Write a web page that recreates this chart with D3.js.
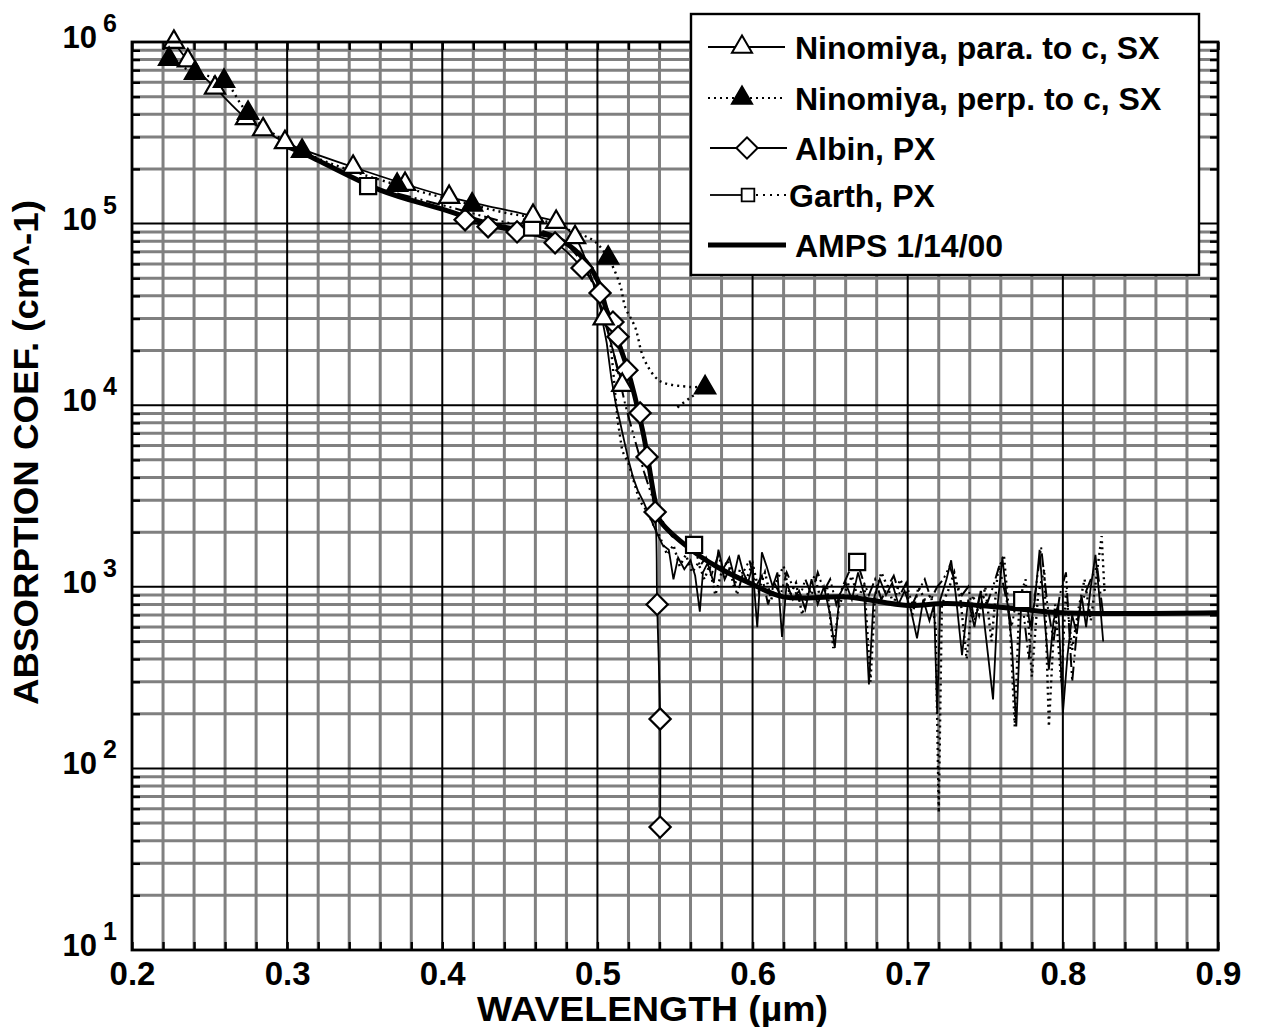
<!DOCTYPE html>
<html>
<head>
<meta charset="utf-8">
<script src="https://cdn.jsdelivr.net/npm/d3@7"></script>
<style>
  body { margin: 0; background: #fff; }
  text { font-family: "Liberation Sans", Arial, sans-serif; font-weight: bold; fill: #000; }
</style>
</head>
<body>
<script>
// Ninomiya, para. to c (open triangles, thin solid)
const paraMarkX = [0.227, 0.236, 0.2535, 0.2735, 0.2845, 0.2986, 0.3425, 0.376, 0.4044, 0.4585, 0.4734, 0.4856, 0.504, 0.516];
const paraMarkY = [1.0e6, 7.9e5, 5.6e5, 3.8e5, 3.3e5, 2.8e5, 2.05e5, 1.65e5, 1.4e5, 1.1e5, 1.02e5, 8.4e4, 3.0e4, 1.29e4];

// Ninomiya, perp. to c (filled triangles, dotted)
const perpMarkX = [0.2239, 0.2406, 0.2593, 0.2748, 0.3096, 0.3709, 0.4192, 0.5069, 0.5694];
const perpMarkY = [8.05e5, 6.75e5, 6.1e5, 4.06e5, 2.51e5, 1.63e5, 1.27e5, 6.47e4, 1.25e4];
const perpLineX = [0.2239, 0.2406, 0.2593, 0.2748, 0.3096, 0.3709, 0.4192, 0.44, 0.46, 0.485, 0.498, 0.5069, 0.5146, 0.5179, 0.5243, 0.5295, 0.5372, 0.5424, 0.5598, 0.5694, 0.5598, 0.5514];
const perpLineY = [8.05e5, 6.75e5, 6.1e5, 4.06e5, 2.51e5, 1.63e5, 1.27e5, 1.15e5, 1.07e5, 9.0e4, 8.0e4, 6.47e4, 4.6e4, 3.47e4, 2.69e4, 1.84e4, 1.43e4, 1.33e4, 1.26e4, 1.25e4, 1.1e4, 9.7e3];

// Albin, PX (open diamonds)
const albinX = [0.4147, 0.4295, 0.4482, 0.4727, 0.4901, 0.5017, 0.510, 0.5133, 0.519, 0.5275, 0.532, 0.5372, 0.5385, 0.5404, 0.5404];
const albinY = [1.05e5, 9.6e4, 9.0e4, 7.84e4, 5.7e4, 4.15e4, 2.87e4, 2.38e4, 1.56e4, 9.06e3, 5.19e3, 2.58e3, 8.0e2, 1.87e2, 4.75e1];

// Garth, PX (open squares, dash-dot)
const garthMarkX = [0.3522, 0.4579, 0.5623, 0.6674, 0.7738];
const garthMarkY = [1.61e5, 9.5e4, 1.70e3, 1.37e3, 8.45e2];
const garthLineX = [0.3522, 0.38, 0.41, 0.438, 0.4579, 0.47, 0.48, 0.49, 0.498, 0.505, 0.512, 0.518, 0.524, 0.530, 0.536, 0.542, 0.548, 0.555, 0.5623, 0.566, 0.570, 0.574, 0.578, 0.582, 0.586, 0.590, 0.594, 0.598, 0.602, 0.606, 0.610, 0.614, 0.618, 0.622, 0.626, 0.630, 0.634, 0.638, 0.642, 0.646, 0.650, 0.654, 0.658, 0.662, 0.6674, 0.671, 0.675, 0.679, 0.683, 0.687, 0.691, 0.695, 0.699, 0.703, 0.707, 0.711, 0.715, 0.719, 0.723, 0.727, 0.731, 0.735, 0.739, 0.743, 0.747, 0.751, 0.755, 0.759, 0.763, 0.767, 0.771, 0.7738, 0.778, 0.782, 0.786, 0.790, 0.794, 0.798, 0.802, 0.806, 0.810, 0.814, 0.818, 0.822, 0.826];
const garthLineY = [1.61e5, 1.4e5, 1.2e5, 1.03e5, 9.5e4, 8.8e4, 7.8e4, 6.2e4, 4.5e4, 3.0e4, 1.7e4, 1.0e4, 6.5e3, 4.3e3, 3.0e3, 2.3e3, 1.9e3, 1.75e3, 1.70e3, 1.3e3, 1.45e3, 1.2e3, 1.5e3, 1.1e3, 1.3e3, 9.0e2, 1.2e3, 1.4e3, 1.0e3, 1.15e3, 8.0e2, 1.05e3, 9.0e2, 1.2e3, 1.0e3, 8.5e2, 1.1e3, 9.0e2, 1.2e3, 9.5e2, 1.1e3, 8.0e2, 1.0e3, 1.2e3, 1.37e3, 1.1e3, 9.0e2, 1.1e3, 8.5e2, 1.0e3, 1.15e3, 9.0e2, 1.05e3, 8.0e2, 9.5e2, 1.1e3, 8.5e2, 1.0e3, 1.1e3, 1.3e3, 1.05e3, 9.0e2, 1.0e3, 6.5e2, 9.5e2, 8.0e2, 1.0e3, 1.3e3, 9.0e2, 6.0e2, 9.5e2, 8.45e2, 4.0e2, 9.0e2, 1.65e3, 8.0e2, 5.0e2, 9.0e2, 1.2e3, 3.0e2, 7.0e2, 9.0e2, 1.1e3, 1.3e3, 7.0e2];

// AMPS 1/14/00 (thick solid)
const ampsX = [0.300, 0.310, 0.360, 0.400, 0.430, 0.450, 0.474, 0.489, 0.500, 0.506, 0.519, 0.5295, 0.537, 0.540, 0.558, 0.577, 0.598, 0.620, 0.661, 0.700, 0.7255, 0.768, 0.800, 0.900];
const ampsY = [2.65e5, 2.45e5, 1.53e5, 1.2e5, 1.0e5, 9.2e4, 8.3e4, 6.7e4, 4.9e4, 3.3e4, 1.62e4, 7.0e3, 3.0e3, 2.34e3, 1.66e3, 1.29e3, 1.05e3, 8.8e2, 8.8e2, 7.9e2, 8.1e2, 7.6e2, 7.2e2, 7.2e2];

// spectra (no markers)
const paraSpecX = [0.503, 0.506, 0.509, 0.512, 0.514, 0.517, 0.520, 0.523, 0.526, 0.530, 0.534, 0.538, 0.542, 0.546, 0.549, 0.552, 0.556, 0.560, 0.563, 0.566, 0.568, 0.571, 0.575, 0.578, 0.581, 0.585, 0.588, 0.591, 0.594, 0.597, 0.600, 0.603, 0.606, 0.609, 0.613, 0.616, 0.619, 0.622, 0.626, 0.630, 0.634, 0.638, 0.642, 0.646, 0.650, 0.653, 0.656, 0.660, 0.664, 0.668, 0.672, 0.675, 0.678, 0.682, 0.686, 0.690, 0.694, 0.698, 0.702, 0.706, 0.710, 0.714, 0.717, 0.719, 0.721, 0.725, 0.728, 0.731, 0.735, 0.739, 0.743, 0.747, 0.751, 0.755, 0.758, 0.761, 0.764, 0.767, 0.770, 0.773, 0.776, 0.779, 0.782, 0.785, 0.788, 0.791, 0.794, 0.797, 0.800, 0.803, 0.806, 0.809, 0.812, 0.815, 0.818, 0.821, 0.824, 0.826];
const paraSpecY = [3.0e4, 2.2e4, 1.4e4, 1.0e4, 8.5e3, 6.5e3, 5.0e3, 4.0e3, 3.4e3, 2.9e3, 2.4e3, 2.0e3, 1.7e3, 1.6e3, 1.1e3, 1.45e3, 1.25e3, 1.4e3, 1.15e3, 7.3e2, 1.2e3, 1.35e3, 1.05e3, 1.6e3, 1.25e3, 1.45e3, 1.15e3, 1.5e3, 1.2e3, 1.05e3, 1.3e3, 6.0e2, 1.55e3, 1.3e3, 1.0e3, 1.2e3, 5.3e2, 1.05e3, 8.5e2, 9.5e2, 7.5e2, 1.1e3, 8.0e2, 1.0e3, 7.0e2, 4.6e2, 9.0e2, 1.05e3, 8.5e2, 1.2e3, 9.0e2, 2.9e2, 8.5e2, 1.1e3, 9.0e2, 1.05e3, 8.0e2, 9.5e2, 7.5e2, 5.2e2, 8.5e2, 6.5e2, 8.0e2, 2.0e2, 8.5e2, 1.1e3, 1.4e3, 9.0e2, 4.2e2, 8.5e2, 6.0e2, 9.5e2, 4.8e2, 2.4e2, 8.0e2, 1.45e3, 8.5e2, 5.0e2, 1.7e2, 7.5e2, 9.0e2, 6.0e2, 8.5e2, 1.6e3, 7.0e2, 3.5e2, 6.5e2, 8.0e2, 2.0e2, 4.2e2, 7.0e2, 5.5e2, 9.0e2, 6.0e2, 1.0e3, 1.5e3, 8.0e2, 5.0e2];
const perpSpecX = [0.507, 0.510, 0.513, 0.516, 0.520, 0.527, 0.532, 0.536, 0.540, 0.545, 0.549, 0.553, 0.557, 0.561, 0.565, 0.569, 0.572, 0.576, 0.580, 0.584, 0.588, 0.592, 0.596, 0.600, 0.604, 0.608, 0.612, 0.616, 0.620, 0.624, 0.628, 0.632, 0.636, 0.640, 0.644, 0.648, 0.652, 0.656, 0.660, 0.664, 0.668, 0.672, 0.676, 0.679, 0.683, 0.687, 0.691, 0.695, 0.699, 0.703, 0.707, 0.711, 0.715, 0.718, 0.720, 0.722, 0.726, 0.730, 0.734, 0.738, 0.742, 0.746, 0.750, 0.754, 0.758, 0.762, 0.766, 0.769, 0.772, 0.776, 0.780, 0.784, 0.788, 0.791, 0.795, 0.799, 0.802, 0.806, 0.810, 0.814, 0.818, 0.822, 0.825, 0.827];
const perpSpecY = [2.9e4, 1.6e4, 8.3e3, 5.6e3, 4.8e3, 3.0e3, 2.6e3, 2.2e3, 1.9e3, 1.5e3, 1.7e3, 1.3e3, 1.5e3, 1.2e3, 1.35e3, 1.1e3, 1.3e3, 9.0e2, 1.2e3, 1.4e3, 1.0e3, 1.25e3, 1.1e3, 1.35e3, 9.5e2, 1.2e3, 8.5e2, 1.1e3, 1.3e3, 9.0e2, 1.05e3, 7.0e2, 9.5e2, 1.15e3, 8.5e2, 1.0e3, 4.6e2, 8.0e2, 9.5e2, 1.15e3, 8.5e2, 1.05e3, 3.0e2, 9.0e2, 1.2e3, 1.0e3, 8.0e2, 1.1e3, 9.5e2, 7.0e2, 1.0e3, 8.5e2, 9.0e2, 6.0e2, 5.7e1, 8.0e2, 9.5e2, 1.2e3, 8.5e2, 4.0e2, 9.0e2, 7.0e2, 1.0e3, 5.0e2, 1.2e3, 1.5e3, 6.0e2, 1.7e2, 8.5e2, 1.1e3, 3.2e2, 9.0e2, 1.25e3, 1.7e2, 8.0e2, 3.0e2, 9.5e2, 4.5e2, 7.5e2, 1.1e3, 6.5e2, 1.2e3, 1.9e3, 9.0e2];

const xTickLabels = [0.2, 0.3, 0.4, 0.5, 0.6, 0.7, 0.8, 0.9];
const yTickExps = [1, 2, 3, 4, 5, 6];
const legendLabels = ["Ninomiya, para. to c, SX", "Ninomiya, perp. to c, SX", "Albin, PX", "Garth, PX", "AMPS 1/14/00"];

const W = 1261, H = 1027;
const L = 132, R = 1218, T = 42, B = 950;

const svg = d3.select("body").append("svg")
    .attr("width", W)
    .attr("height", H);

const x = d3.scaleLinear().domain([0.2, 0.9]).range([L, R]);
const y = d3.scaleLog().domain([10, 1e6]).range([B, T]);

// grid values
const minorX = d3.range(10, 46).map(i => +(i * 0.02).toFixed(2));
const gridYMinor = [], gridYMajor = [];
for (let k = 1; k <= 5; k++) {
  for (let m = 2; m <= 9; m++) gridYMinor.push(m * Math.pow(10, k));
  if (k > 1) gridYMajor.push(Math.pow(10, k));
}
const gridXMinor = minorX.filter((d, i) => i % 5 != 0);
const gridXMajor = minorX.filter((d, i) => i % 5 == 0 && i > 0 && i < 35);

const grid = svg.append("g");
grid.selectAll(".gxm").data(gridXMinor).enter().append("line")
    .attr("x1", d => x(d)).attr("x2", d => x(d)).attr("y1", T).attr("y2", B)
    .attr("stroke", "#808080").attr("stroke-width", 3);
grid.selectAll(".gym").data(gridYMinor).enter().append("line")
    .attr("x1", L).attr("x2", R).attr("y1", d => y(d)).attr("y2", d => y(d))
    .attr("stroke", "#808080").attr("stroke-width", 3);
grid.selectAll(".gxM").data(gridXMajor).enter().append("line")
    .attr("x1", d => x(d)).attr("x2", d => x(d)).attr("y1", T).attr("y2", B)
    .attr("stroke", "#000").attr("stroke-width", 2);
grid.selectAll(".gyM").data(gridYMajor).enter().append("line")
    .attr("x1", L).attr("x2", R).attr("y1", d => y(d)).attr("y2", d => y(d))
    .attr("stroke", "#000").attr("stroke-width", 2);

// inner ticks
function tickStyle(g) {
  g.select(".domain").remove();
  g.selectAll(".tick line").attr("stroke", "#000").attr("stroke-width", 2.4);
  g.selectAll(".tick text").remove();
}
svg.append("g").attr("transform", `translate(0,${B})`)
    .call(d3.axisTop(x).tickValues(minorX).tickSize(8)).call(tickStyle);
svg.append("g").attr("transform", `translate(0,${T})`)
    .call(d3.axisBottom(x).tickValues(minorX).tickSize(8)).call(tickStyle);
svg.append("g").attr("transform", `translate(${L},0)`)
    .call(d3.axisRight(y).tickValues(gridYMinor).tickSize(8)).call(tickStyle);
svg.append("g").attr("transform", `translate(${R},0)`)
    .call(d3.axisLeft(y).tickValues(gridYMinor).tickSize(8)).call(tickStyle);

// clip
svg.append("clipPath").attr("id", "clip").append("rect")
    .attr("x", L).attr("y", T).attr("width", R - L).attr("height", B - T);
const plot = svg.append("g").attr("clip-path", "url(#clip)");

const lineLin = d3.line().x(d => x(d[0])).y(d => y(d[1]));
const lineSmooth = d3.line().x(d => x(d[0])).y(d => y(d[1])).curve(d3.curveCatmullRom.alpha(0.5));
const zip = (a, b) => a.map((v, i) => [v, b[i]]);

// spectra
plot.append("path").datum(zip(perpSpecX, perpSpecY)).attr("d", lineLin)
    .attr("fill", "none").attr("stroke", "#000").attr("stroke-width", 2.4)
    .attr("stroke-dasharray", "2,4");
plot.append("path").datum(zip(paraSpecX, paraSpecY)).attr("d", lineLin)
    .attr("fill", "none").attr("stroke", "#000").attr("stroke-width", 1.8);
plot.append("path").datum(zip(garthLineX, garthLineY)).attr("d", lineLin)
    .attr("fill", "none").attr("stroke", "#000").attr("stroke-width", 2)
    .attr("stroke-dasharray", "14,4,2,4,2,4");

// marker series lines
plot.append("path").datum(zip(paraMarkX, paraMarkY)).attr("d", lineSmooth)
    .attr("fill", "none").attr("stroke", "#000").attr("stroke-width", 1.8);
plot.append("path").datum(zip(perpLineX, perpLineY)).attr("d", lineSmooth)
    .attr("fill", "none").attr("stroke", "#000").attr("stroke-width", 2.4)
    .attr("stroke-dasharray", "2,4");
plot.append("path").datum(zip(albinX, albinY)).attr("d", lineSmooth)
    .attr("fill", "none").attr("stroke", "#000").attr("stroke-width", 1.8);

// AMPS
plot.append("path").datum(zip(ampsX, ampsY)).attr("d", lineSmooth)
    .attr("fill", "none").attr("stroke", "#000").attr("stroke-width", 5)
    .attr("stroke-linejoin", "round");

// markers
const triPath = d3.symbol().type(d3.symbolTriangle).size(175)();
const sqPath = d3.symbol().type(d3.symbolSquare).size(260)();
const diaPath = d3.symbol().type(d3.symbolSquare).size(225)();

function drawMarkers(g, xs, ys, path, fill, rot) {
  g.selectAll(null).data(zip(xs, ys)).enter().append("path")
      .attr("d", path)
      .attr("transform", d => `translate(${x(d[0])},${y(d[1])}) rotate(${rot})`)
      .attr("fill", fill).attr("stroke", "#000").attr("stroke-width", 2.2);
}
const mk = svg.append("g");
drawMarkers(mk, albinX, albinY, diaPath, "#fff", 45);
drawMarkers(mk, garthMarkX, garthMarkY, sqPath, "#fff", 0);
drawMarkers(mk, paraMarkX, paraMarkY, triPath, "#fff", 0);
drawMarkers(mk, perpMarkX, perpMarkY, triPath, "#000", 0);

// frame
svg.append("rect").attr("x", L).attr("y", T).attr("width", R - L).attr("height", B - T)
    .attr("fill", "none").attr("stroke", "#000").attr("stroke-width", 2.8);

// x tick labels
const xAxis = svg.append("g").attr("transform", `translate(0,${B})`)
    .call(d3.axisBottom(x).tickValues(xTickLabels).tickSize(0).tickPadding(12).tickFormat(d3.format(".1f")));
xAxis.select(".domain").remove();
xAxis.selectAll("text").attr("font-size", 33).attr("font-family", "Liberation Sans, Arial, sans-serif")
    .attr("font-weight", "bold").attr("fill", "#000");

// y tick labels 10^n
const yl = svg.append("g");
yTickExps.forEach(e => {
  const yy = y(Math.pow(10, e));
  yl.append("text").attr("x", 97).attr("y", yy + 6).attr("text-anchor", "end")
      .attr("font-size", 31).text("10");
  yl.append("text").attr("x", 103).attr("y", yy - 10)
      .attr("font-size", 25).text(e);
});

// axis titles
svg.append("text").attr("x", 477).attr("y", 1021).attr("font-size", 35)
    .attr("textLength", 351).attr("lengthAdjust", "spacingAndGlyphs")
    .text("WAVELENGTH  (\u00b5m)");
svg.append("text").attr("transform", "translate(38,705) rotate(-90)")
    .attr("font-size", 35).attr("textLength", 505).attr("lengthAdjust", "spacingAndGlyphs")
    .text("ABSORPTION COEF.  (cm^-1)");

// legend
const lg = svg.append("g");
lg.append("rect").attr("x", 691).attr("y", 14).attr("width", 508).attr("height", 261)
    .attr("fill", "#fff").attr("stroke", "#000").attr("stroke-width", 2.4);
const rowY = [47, 98, 148, 195, 245];
legendLabels.forEach((t, i) => {
  lg.append("text").attr("x", i == 3 ? 789 : 795).attr("y", rowY[i] + 12)
      .attr("font-size", 32).text(t);
});
lg.append("line").attr("x1", 708).attr("x2", 785).attr("y1", rowY[0]).attr("y2", rowY[0])
    .attr("stroke", "#000").attr("stroke-width", 1.8);
lg.append("path").attr("d", triPath).attr("transform", `translate(742,${rowY[0]})`)
    .attr("fill", "#fff").attr("stroke", "#000").attr("stroke-width", 2);
lg.append("line").attr("x1", 708).attr("x2", 785).attr("y1", rowY[1]).attr("y2", rowY[1])
    .attr("stroke", "#000").attr("stroke-width", 2).attr("stroke-dasharray", "2,4");
lg.append("path").attr("d", triPath).attr("transform", `translate(742,${rowY[1]})`)
    .attr("fill", "#000").attr("stroke", "#000").attr("stroke-width", 2);
lg.append("line").attr("x1", 710).attr("x2", 787).attr("y1", rowY[2]).attr("y2", rowY[2])
    .attr("stroke", "#000").attr("stroke-width", 1.8);
lg.append("path").attr("d", diaPath).attr("transform", `translate(747,${rowY[2]}) rotate(45)`)
    .attr("fill", "#fff").attr("stroke", "#000").attr("stroke-width", 2);
lg.append("line").attr("x1", 710).attr("x2", 742).attr("y1", rowY[3]).attr("y2", rowY[3])
    .attr("stroke", "#000").attr("stroke-width", 1.8);
lg.append("line").attr("x1", 756).attr("x2", 786).attr("y1", rowY[3]).attr("y2", rowY[3])
    .attr("stroke", "#000").attr("stroke-width", 1.8).attr("stroke-dasharray", "2,5");
lg.append("path").attr("d", d3.symbol().type(d3.symbolSquare).size(160)()).attr("transform", `translate(748,${rowY[3]})`)
    .attr("fill", "#fff").attr("stroke", "#000").attr("stroke-width", 1.8);
lg.append("line").attr("x1", 708).attr("x2", 786).attr("y1", rowY[4]).attr("y2", rowY[4])
    .attr("stroke", "#000").attr("stroke-width", 5);
</script>
</body>
</html>
